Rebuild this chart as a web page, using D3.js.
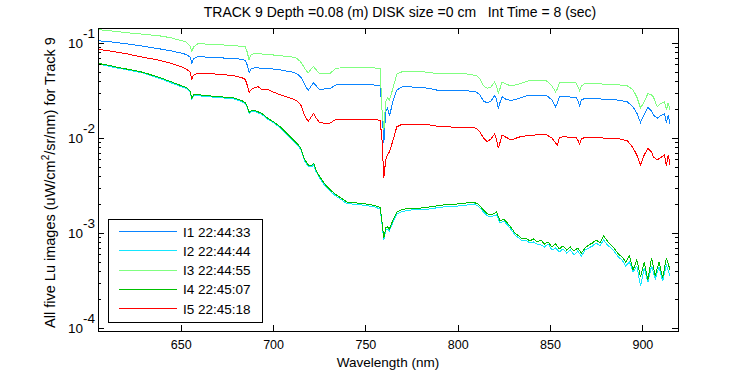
<!DOCTYPE html>
<html><head><meta charset="utf-8">
<script src="https://cdn.jsdelivr.net/npm/d3@7"></script>
<style>
body{margin:0;background:#fff;}
svg text{font-family:"Liberation Sans",Arial,Helvetica,sans-serif;fill:#000;}
</style></head><body>
<svg id="c" width="750" height="375"></svg>
<script>
// ---------- DATA ----------
const wavelengths = [605,610,615,620,625,630,635,640,645,650,653,655,656,657,659,663,668,673,678,683,685,686,687,688,690,692,694,697,700,704,708,711,713,715,717,719,721,722,723,725,728,731,734,740,745,750,755,758,759,760,761,762,763,765,767,770,775,780,785,790,795,800,805,810,812,814,816,818,820,821,822,823,824,826,829,833,838,843,848,851,853,854,855,857,861,864,865,866,867,869,873,878,883,888,892,895,897,899,900,901,903,905,906,908,910,912,913,914,915];

const I1 = [0.1057,0.1037,0.1012,0.0983,0.0953,0.0923,0.0890,0.0858,0.0824,0.0785,
0.0757,0.0712,0.0616,0.0679,0.0717,0.0712,0.0707,0.0695,0.0687,0.0674,
0.0654,0.0587,0.0489,0.0532,0.0546,0.0546,0.0542,0.0539,0.0532,0.0520,
0.0504,0.0492,0.0472,0.0439,0.0370,0.0316,0.0361,0.0382,0.0361,0.0326,
0.0328,0.0334,0.0361,0.0366,0.0368,0.0366,0.0361,0.0357,0.0197,0.00886,
0.0188,0.0207,0.0170,0.0245,0.0320,0.0347,0.0344,0.0340,0.0332,0.0315,
0.0315,0.0315,0.0315,0.0305,0.0284,0.0245,0.0234,0.0245,0.0280,0.0257,
0.0207,0.0239,0.0272,0.0257,0.0248,0.0260,0.0280,0.0282,0.0282,0.0251,
0.0214,0.0234,0.0270,0.0272,0.0270,0.0268,0.0251,0.0217,0.0251,0.0262,
0.0260,0.0257,0.0256,0.0248,0.0239,0.0212,0.0183,0.0145,0.0162,0.0175,
0.0211,0.0192,0.0175,0.0161,0.0173,0.0179,0.0144,0.0175,0.0140];

const I3 = [0.1387,0.1354,0.1321,0.1290,0.1259,0.1235,0.1208,0.1179,0.1129,0.1062,
0.1025,0.0930,0.0814,0.0908,0.0976,0.0976,0.0969,0.0953,0.0941,0.0923,
0.0908,0.0804,0.0662,0.0748,0.0779,0.0775,0.0766,0.0753,0.0748,0.0735,
0.0721,0.0709,0.0687,0.0631,0.0546,0.0483,0.0546,0.0563,0.0532,0.0480,
0.0477,0.0480,0.0542,0.0552,0.0555,0.0552,0.0546,0.0539,0.0197,0.0121,
0.0239,0.0264,0.0251,0.0336,0.0472,0.0499,0.0499,0.0499,0.0489,0.0472,
0.0472,0.0472,0.0472,0.0455,0.0418,0.0353,0.0334,0.0344,0.0389,0.0353,
0.0298,0.0336,0.0389,0.0370,0.0353,0.0370,0.0398,0.0401,0.0401,0.0353,
0.0307,0.0328,0.0379,0.0382,0.0382,0.0382,0.0353,0.0315,0.0353,0.0377,
0.0375,0.0370,0.0370,0.0361,0.0353,0.0320,0.0270,0.0207,0.0223,0.0239,
0.0294,0.0284,0.0270,0.0214,0.0231,0.0241,0.0197,0.0235,0.0197];

const I5 = [0.0858,0.0834,0.0804,0.0775,0.0739,0.0704,0.0679,0.0646,0.0608,0.0566,
0.0532,0.0495,0.0418,0.0460,0.0480,0.0477,0.0472,0.0464,0.0455,0.0433,
0.0413,0.0361,0.0301,0.0320,0.0340,0.0347,0.0320,0.0326,0.0305,0.0284,
0.0268,0.0257,0.0245,0.0223,0.0175,0.0149,0.0170,0.0182,0.0166,0.0147,
0.0142,0.0144,0.0157,0.0158,0.0158,0.0158,0.0157,0.0153,0.00953,0.00379,
0.00587,0.00662,0.00712,0.00953,0.0131,0.0140,0.0139,0.0138,0.0137,0.0132,
0.0131,0.0129,0.0129,0.0127,0.0116,0.0100,0.00914,0.00976,0.0110,0.00976,
0.00785,0.00908,0.0108,0.0102,0.00953,0.0102,0.0106,0.0108,0.0108,0.0100,
0.00886,0.00844,0.0100,0.0103,0.0102,0.0102,0.00953,0.00865,0.00976,0.0102,
0.0101,0.0100,0.00993,0.00976,0.00930,0.00785,0.00662,0.00520,0.00587,0.00662,
0.00779,0.00712,0.00631,0.00587,0.00623,0.00662,0.00507,0.00662,0.00520];

const wavelengthsLow = [605,610,615,620,625,630,635,640,645,650,653,655,656,657,659,663,668,673,678,683,685,686,687,688,690,692,694,697,700,704,708,711,713,715,717,719,721,722,723,725,728,731,734,740,745,750,755,758,759,760,761,762,763,765,767,770,775,780,785,790,795,800,805,
807,809,811,813,815,817,819,821,823,825,827,829,831,833,835,837,839,841,843,845,847,849,851,853,855,857,859,861,863,865,867,869,871,873,875,877,879,881,883,885,887,889,891,893,895,897,899,901,903,905,907,909,911,913,915];

const I2 = [0.0601,0.0575,0.0548,0.0526,0.0504,0.0481,0.0446,0.0413,0.0379,0.0348,
0.0332,0.0305,0.0257,0.0277,0.0280,0.0273,0.0269,0.0264,0.0260,0.0242,
0.0228,0.0212,0.0181,0.0188,0.0190,0.0183,0.0177,0.0158,0.0146,0.0127,
0.0106,0.00930,0.00854,0.00757,0.00580,0.00501,0.00495,0.00520,0.00455,0.00384,
0.00316,0.00273,0.00245,0.00204,0.00200,0.00195,0.00188,0.00179,0.00124,0.000844,
0.00108,0.00110,0.00105,0.00131,0.00158,0.00168,0.00175,0.00175,0.00179,0.00186,
0.00190,0.00192,0.00197,
0.00197,0.00202,0.00192,0.00175,0.00158,0.00147,0.00151,0.00155,0.00127,0.00134,
0.00121,0.00108,0.000953,0.000886,0.000824,0.000844,0.000785,0.000804,0.000766,0.000748,
0.000712,0.000766,0.000662,0.000695,0.000631,0.000679,0.000616,0.000662,0.000587,0.000646,
0.000573,0.000662,0.000695,0.000730,0.000785,0.000730,0.000844,0.000748,0.000695,0.000631,
0.000559,0.000520,0.000449,0.000495,0.000389,0.000449,0.000277,0.000428,0.000305,0.000449,
0.000328,0.000439,0.000312,0.000460,0.000353];

const I4 = [0.0611,0.0587,0.0559,0.0535,0.0513,0.0489,0.0455,0.0423,0.0389,0.0357,
0.0340,0.0312,0.0264,0.0284,0.0287,0.0280,0.0275,0.0270,0.0267,0.0248,
0.0234,0.0217,0.0186,0.0192,0.0195,0.0188,0.0181,0.0162,0.0149,0.0131,
0.0109,0.00953,0.00875,0.00785,0.00601,0.00520,0.00513,0.00542,0.00472,0.00398,
0.00328,0.00284,0.00254,0.00212,0.00207,0.00202,0.00195,0.00186,0.00131,0.000886,
0.00113,0.00116,0.00110,0.00137,0.00166,0.00177,0.00183,0.00183,0.00188,0.00195,
0.00200,0.00202,0.00207,
0.00207,0.00209,0.00202,0.00183,0.00166,0.00155,0.00158,0.00166,0.00134,0.00140,
0.00127,0.00113,0.00100,0.000930,0.000865,0.000886,0.000824,0.000865,0.000804,0.000844,
0.000766,0.000804,0.000712,0.000766,0.000679,0.000730,0.000662,0.000712,0.000646,0.000695,
0.000616,0.000695,0.000748,0.000785,0.000844,0.000785,0.000930,0.000824,0.000748,0.000679,
0.000601,0.000559,0.000495,0.000573,0.000408,0.000520,0.000344,0.000495,0.000320,0.000546,
0.000353,0.000495,0.000336,0.000546,0.000408];

const legendLabels = ["I1 22:44:33","I2 22:44:44","I3 22:44:55","I4 22:45:07","I5 22:45:18"];
const seriesColors = ["#0a84ff","#14e6ff","#80ff80","#00c000","#ff0000"];
const xTicks = [650,700,750,800,850,900];
const yTicks = [1e-1,1e-2,1e-3,1e-4];
const yTickExponents = ["-1","-2","-3","-4"];
const yMinorTicks = [2e-5,3e-5,4e-5,5e-5,6e-5,7e-5,8e-5,9e-5,2e-4,3e-4,4e-4,5e-4,6e-4,7e-4,8e-4,9e-4,2e-3,3e-3,4e-3,5e-3,6e-3,7e-3,8e-3,9e-3,2e-2,3e-2,4e-2,5e-2,6e-2,7e-2,8e-2,9e-2];
const titleText = "TRACK 9 Depth =0.08 (m) DISK size =0 cm   Int Time = 8 (sec)";
const xLabelText = "Wavelength (nm)";
const xDomain = [605.2, 919.3];
const yDomain = [9.29e-5, 0.1438];

// ---------- CHART ----------
const svg = d3.select("#c");
const m = {left:98, right:678, top:28, bottom:331};
const x = d3.scaleLinear().domain(xDomain).range([m.left, m.right]);
const y = d3.scaleLog().domain(yDomain).range([m.bottom, m.top]);

svg.append("rect").attr("width",750).attr("height",375).attr("fill","#fff");

svg.append("defs").append("clipPath").attr("id","clip")
  .append("rect").attr("x",m.left).attr("y",m.top).attr("width",m.right-m.left).attr("height",m.bottom-m.top);

const series = [
  {wl: wavelengths, v: I1},
  {wl: wavelengthsLow, v: I2},
  {wl: wavelengths, v: I3},
  {wl: wavelengthsLow, v: I4},
  {wl: wavelengths, v: I5}
];

const plot = svg.append("g").attr("clip-path","url(#clip)");
series.forEach((s,k) => {
  const line = d3.line().x((d,i)=>x(s.wl[i])).y(d=>y(d));
  plot.append("path").datum(s.v)
    .attr("d", line)
    .attr("fill","none")
    .attr("stroke", seriesColors[k])
    .attr("stroke-width",1)
    .attr("shape-rendering","crispEdges");
});

function clean(g){ g.select(".domain").remove(); g.selectAll("line").attr("stroke","#000").attr("shape-rendering","crispEdges"); }

// x axes
const gxb = svg.append("g").attr("transform",`translate(0,${m.bottom})`)
  .call(d3.axisBottom(x).tickValues(xTicks).tickSize(-6).tickSizeOuter(0).tickPadding(9).tickFormat(d3.format("d")))
  .call(clean);
gxb.selectAll("text").attr("font-size",12.5).attr("font-family",null);
svg.append("g").attr("transform",`translate(0,${m.top})`)
  .call(d3.axisTop(x).tickValues(xTicks).tickSize(-6).tickSizeOuter(0).tickFormat(""))
  .call(clean);

// y axes
const minorIn = yMinorTicks.filter(v=>v>yDomain[0]&&v<yDomain[1]);
const gyl = svg.append("g").attr("transform",`translate(${m.left},0)`)
  .call(d3.axisLeft(y).tickValues(yTicks).tickSize(-6).tickSizeOuter(0).tickPadding(3).tickFormat(""))
  .call(clean);
gyl.selectAll(".tick text").each(function(d,i){
  const t = d3.select(this).attr("font-size",13.5).attr("font-family",null);
  t.text(null);
  t.append("tspan").text("10");
  t.append("tspan").attr("dy",-10).text(yTickExponents[i]);
});
svg.append("g").attr("transform",`translate(${m.left},0)`)
  .call(d3.axisLeft(y).tickValues(minorIn).tickSize(-3).tickSizeOuter(0).tickFormat(""))
  .call(clean);
svg.append("g").attr("transform",`translate(${m.right},0)`)
  .call(d3.axisRight(y).tickValues(yTicks).tickSize(-6).tickSizeOuter(0).tickFormat(""))
  .call(clean);
svg.append("g").attr("transform",`translate(${m.right},0)`)
  .call(d3.axisRight(y).tickValues(minorIn).tickSize(-3).tickSizeOuter(0).tickFormat(""))
  .call(clean);

// box
svg.append("rect").attr("x",m.left).attr("y",m.top).attr("width",m.right-m.left).attr("height",m.bottom-m.top)
  .attr("fill","none").attr("stroke","#000").attr("shape-rendering","crispEdges");

// title & labels
svg.append("text").attr("x",400).attr("y",17).attr("text-anchor","middle").attr("font-size",14)
  .style("white-space","pre").text(titleText);
svg.append("text").attr("x",(m.left+m.right)/2).attr("y",367).attr("text-anchor","middle").attr("font-size",13.5)
  .text(xLabelText);
const yl = svg.append("text").attr("transform",`translate(55,${(m.top+m.bottom)/2+3}) rotate(-90)`)
  .attr("text-anchor","middle").attr("font-size",14.5);
yl.append("tspan").text("All five Lu images (uW/cm");
yl.append("tspan").attr("dy",-6).attr("font-size",10).text("2");
yl.append("tspan").attr("dy",6).text("/sr/nm) for Track 9");

// legend
const lg = svg.append("g");
lg.append("rect").attr("x",108).attr("y",219).attr("width",154).attr("height",103)
  .attr("fill","#fff").attr("stroke","#000").attr("shape-rendering","crispEdges");
legendLabels.forEach((lab,i)=>{
  const yy = 231.5 + i*19.3;
  lg.append("line").attr("x1",119).attr("x2",177).attr("y1",yy).attr("y2",yy)
    .attr("stroke",seriesColors[i]).attr("shape-rendering","crispEdges");
  lg.append("text").attr("x",183).attr("y",yy+5).attr("font-size",13.5).text(lab);
});
</script>
</body></html>
